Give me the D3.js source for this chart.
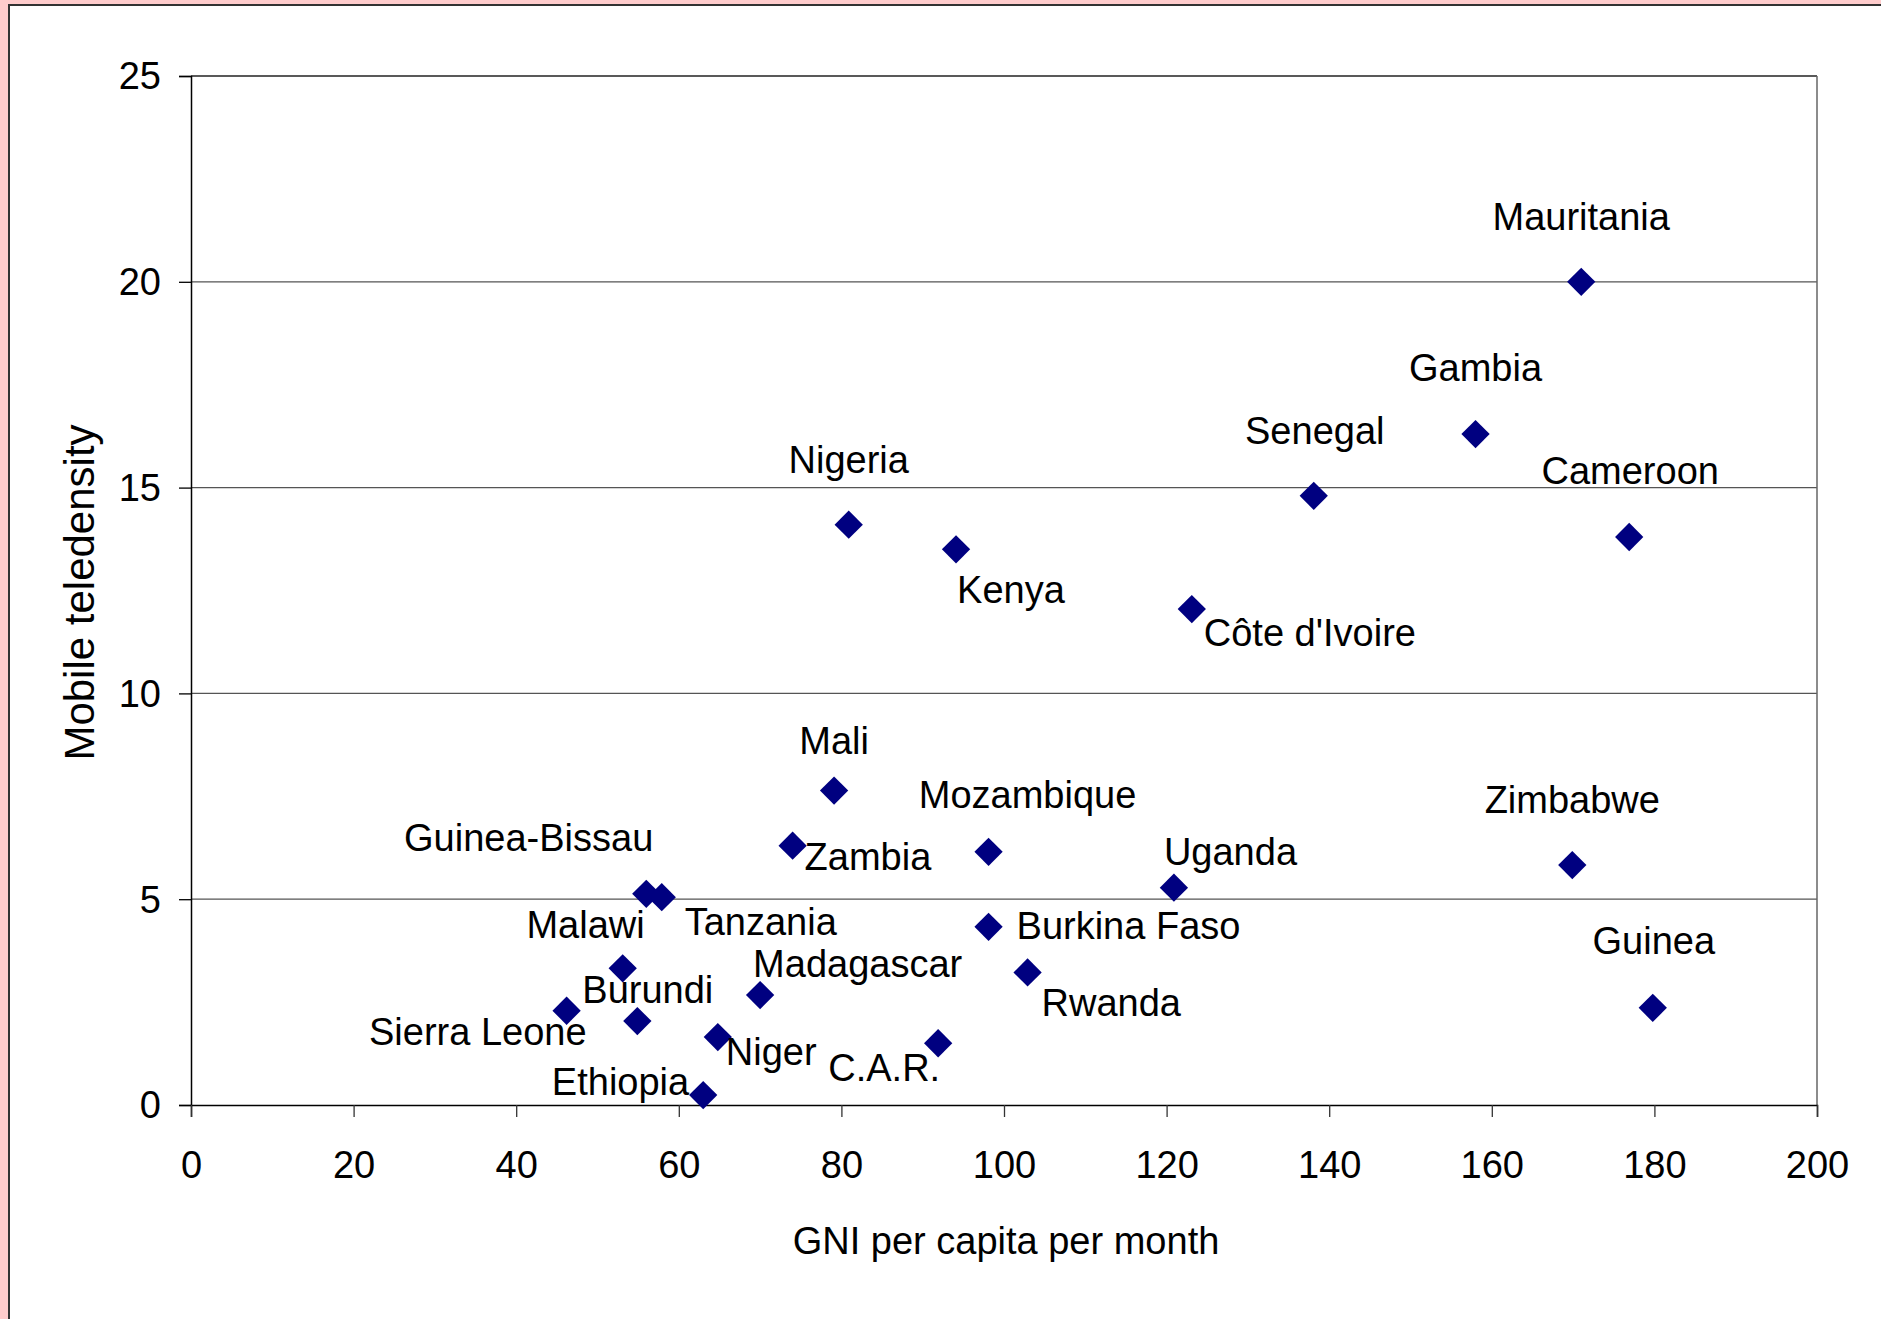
<!DOCTYPE html>
<html>
<head>
<meta charset="utf-8">
<script src="https://cdn.jsdelivr.net/npm/d3@7"></script>
<style>
  html, body { margin: 0; padding: 0; background: #ffcccc; }
  svg { display: block; }
  text { font-family: "Liberation Sans", Arial, sans-serif; fill: #000; }
</style>
</head>
<body>
<svg id="chart" width="1881" height="1319"></svg>
<script>
// ---- data ----
const countries = ["Mauritania","Gambia","Senegal","Cameroon","Nigeria","Kenya","Côte d'Ivoire",
  "Mali","Zambia","Mozambique","Uganda","Zimbabwe","Guinea-Bissau","Tanzania","Burkina Faso",
  "Malawi","Rwanda","Madagascar","Sierra Leone","Burundi","Guinea","Niger","C.A.R.","Ethiopia"];
const gniPerMonth = [171.0,158.0,138.1,176.9,80.9,94.1,123.1,
  79.1,74.0,98.1,120.9,169.9,56.0,57.9,98.1,
  53.1,102.9,70.0,46.2,54.9,179.8,64.8,91.9,63.0];
const mobileTeledensity = [20.0,16.3,14.8,13.8,14.1,13.5,12.05,
  7.64,6.3,6.15,5.28,5.83,5.13,5.05,4.33,
  3.32,3.22,2.67,2.29,2.04,2.36,1.65,1.5,0.24];
const xTicks = [0,20,40,60,80,100,120,140,160,180,200];
const yTicks = [0,5,10,15,20,25];
const xTitle = "GNI per capita per month";
const yTitle = "Mobile teledensity";

// ---- layout (label placement relative to the marker) ----
const labelLayout = {
  "Mauritania":   {a:"middle", dx:0,   dy:-52},
  "Gambia":       {a:"middle", dx:0,   dy:-53},
  "Senegal":      {a:"middle", dx:1,   dy:-52},
  "Cameroon":     {a:"middle", dx:1,   dy:-53},
  "Nigeria":      {a:"middle", dx:0,   dy:-52},
  "Kenya":        {a:"start",  dx:1,   dy:54},
  "Côte d'Ivoire":{a:"start",  dx:12,  dy:37},
  "Mali":         {a:"middle", dx:0,   dy:-37},
  "Zambia":       {a:"start",  dx:12,  dy:24},
  "Mozambique":   {a:"middle", dx:39,  dy:-44},
  "Uganda":       {a:"start",  dx:-10, dy:-23},
  "Zimbabwe":     {a:"middle", dx:0,   dy:-52},
  "Guinea-Bissau":{a:"end",    dx:7,   dy:-43},
  "Tanzania":     {a:"start",  dx:23,  dy:38},
  "Burkina Faso": {a:"start",  dx:28,  dy:12},
  "Malawi":       {a:"end",    dx:22,  dy:-30},
  "Rwanda":       {a:"start",  dx:14,  dy:44},
  "Madagascar":   {a:"start",  dx:-7,  dy:-18},
  "Sierra Leone": {a:"end",    dx:20,  dy:34},
  "Burundi":      {a:"start",  dx:-55, dy:-18},
  "Guinea":       {a:"middle", dx:1,   dy:-54},
  "Niger":        {a:"start",  dx:8,   dy:28},
  "C.A.R.":       {a:"end",    dx:2,   dy:38},
  "Ethiopia":     {a:"end",    dx:-14, dy:0}
};

const W = 1881, H = 1319;
const plot = {left:191, right:1817, top:76, bottom:1105};
const FS = 38;

const svg = d3.select("#chart");

// white panel with border
svg.append("rect").attr("x", 9).attr("y", 5).attr("width", W + 20).attr("height", H + 20)
  .attr("fill", "#fff").attr("stroke", "#333").attr("stroke-width", 2);

const x = d3.scaleLinear().domain([0, 200]).range([plot.left, plot.right]);
const y = d3.scaleLinear().domain([0, 25]).range([plot.bottom, plot.top]);

// horizontal gridlines
svg.append("g").selectAll("line").data(yTicks.filter(t => t > 0)).join("line")
  .attr("x1", plot.left).attr("x2", plot.right)
  .attr("y1", d => y(d)).attr("y2", d => y(d))
  .attr("stroke", d => d === 25 ? "#222" : "#555").attr("stroke-width", 1.3);

// right border
svg.append("line").attr("x1", plot.right).attr("x2", plot.right)
  .attr("y1", plot.top).attr("y2", plot.bottom)
  .attr("stroke", "#666").attr("stroke-width", 1.5);

// y axis
const yAxis = d3.axisLeft(y).tickValues(yTicks).tickSize(12).tickPadding(18).tickFormat(d3.format("d"));
const gy = svg.append("g").attr("transform", `translate(${plot.left},0)`).call(yAxis);
gy.select(".domain").attr("stroke", "#000").attr("stroke-width", 1.5);
gy.selectAll(".tick line").attr("stroke", "#000").attr("stroke-width", 1.3);
gy.selectAll(".tick text").attr("font-size", FS).attr("font-family", "Liberation Sans, Arial, sans-serif")
  .attr("fill", "#000").attr("dy", "0.34em");

// x axis
const xAxis = d3.axisBottom(x).tickValues(xTicks).tickSize(12).tickPadding(34).tickFormat(d3.format("d"));
const gx = svg.append("g").attr("transform", `translate(0,${plot.bottom})`).call(xAxis);
gx.select(".domain").attr("stroke", "#000").attr("stroke-width", 1.5);
gx.selectAll(".tick line").attr("stroke", "#333").attr("stroke-width", 1.3);
gx.selectAll(".tick text").attr("font-size", FS).attr("font-family", "Liberation Sans, Arial, sans-serif")
  .attr("fill", "#000");

// axis titles
svg.append("text").attr("x", (plot.left + plot.right) / 2 + 2).attr("y", 1254)
  .attr("text-anchor", "middle").attr("font-size", FS).text(xTitle);
svg.append("text").attr("transform", `translate(94,${(plot.top + plot.bottom) / 2 + 2}) rotate(-90)`)
  .attr("text-anchor", "middle").attr("font-size", 42).text(yTitle);

// data
const pts = countries.map((c, i) => ({name: c, gx: gniPerMonth[i], ty: mobileTeledensity[i]}));

const diamond = d3.symbol().type(d3.symbolSquare).size(400);
svg.append("g").selectAll("path").data(pts).join("path")
  .attr("d", diamond)
  .attr("transform", d => `translate(${x(d.gx)},${y(d.ty)}) rotate(45)`)
  .attr("fill", "#000080");

svg.append("g").selectAll("text").data(pts).join("text")
  .attr("x", d => x(d.gx) + labelLayout[d.name].dx)
  .attr("y", d => y(d.ty) + labelLayout[d.name].dy)
  .attr("text-anchor", d => labelLayout[d.name].a)
  .attr("font-size", FS)
  .text(d => d.name);
</script>
</body>
</html>
